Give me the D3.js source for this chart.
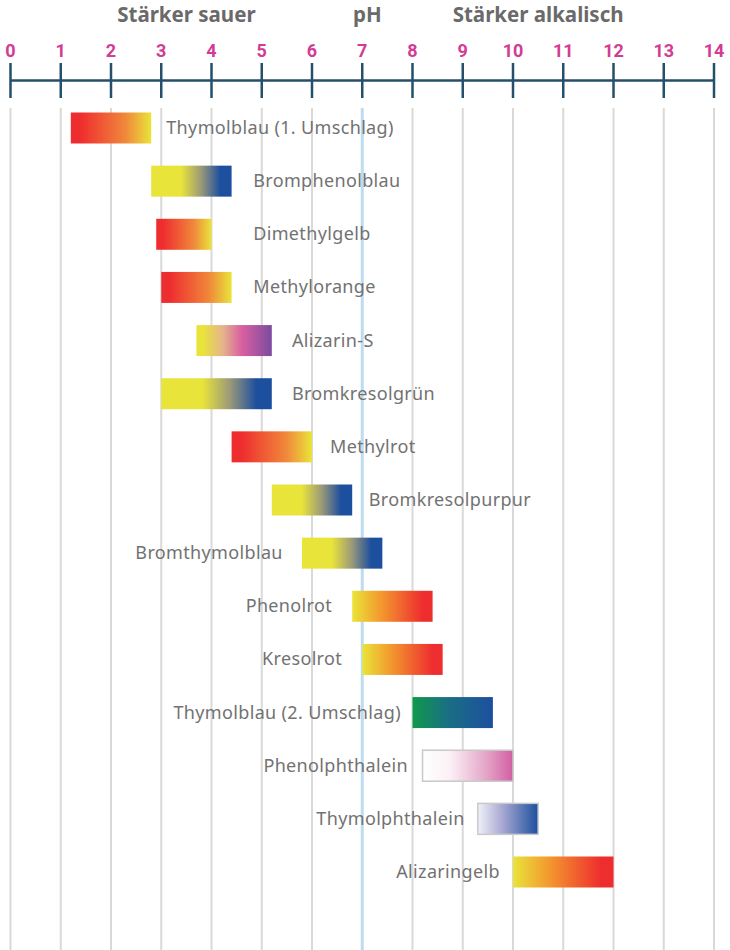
<!DOCTYPE html>
<html>
<head>
<meta charset="utf-8">
<script src="https://cdn.jsdelivr.net/npm/d3@7"></script>
<style>
  body { margin: 0; background: #fff; }
  svg { display: block; }
</style>
</head>
<body>
<svg id="chart" width="730" height="950"></svg>
<script>
// the data
var indicators = ['Thymolblau (1. Umschlag)', 'Bromphenolblau', 'Dimethylgelb', 'Methylorange',
  'Alizarin-S', 'Bromkresolgrün', 'Methylrot', 'Bromkresolpurpur', 'Bromthymolblau',
  'Phenolrot', 'Kresolrot', 'Thymolblau (2. Umschlag)', 'Phenolphthalein',
  'Thymolphthalein', 'Alizaringelb'];
var phFrom = [1.2, 2.8, 2.9, 3.0, 3.7, 3.0, 4.4, 5.2, 5.8, 6.8, 7.0, 8.0, 8.2, 9.3, 10.0];
var phTo   = [2.8, 4.4, 4.0, 4.4, 5.2, 5.2, 6.0, 6.8, 7.4, 8.4, 8.6, 9.6, 10.0, 10.5, 12.0];
// colour of the acid and the base form
var acidForm = ['rot', 'gelb', 'rot', 'rot', 'gelb', 'gelb', 'rot', 'gelb', 'gelb',
  'gelb', 'gelb', 'grün', 'farblos', 'farblos', 'gelb'];
var baseForm = ['gelb', 'blau', 'gelb', 'gelb', 'violett', 'blau', 'gelb', 'blau', 'blau',
  'rot', 'rot', 'blau', 'pink', 'blau', 'rot'];
// where the name sits on the pH scale
var labelAt = [3.1, 4.83, 4.83, 4.83, 5.6, 5.6, 6.36, 7.13, 5.42, 6.4, 6.6, 7.77, 7.91, 9.04, 9.74];
var labelSide = ['r', 'r', 'r', 'r', 'r', 'r', 'r', 'r', 'l', 'l', 'l', 'l', 'l', 'l', 'l'];
var phTicks = d3.range(0, 15);
var headers = [['Stärker sauer', 3.5], ['pH', 7.1], ['Stärker alkalisch', 10.5]];

// colours
var col = { rot: '#ee2d2f', gelb: '#e9e43a', orange: '#f0883a', blau: '#1d4f9f',
  grün: '#10994b', violett: '#7b4aa0', pink: '#d25ea3', farblos: '#ffffff' };

function stopsFor(a, b) {
  var k = a + '>' + b;
  if (k == 'rot>gelb') return [[0, col.rot], [0.12, col.rot], [0.68, col.orange], [1, col.gelb]];
  if (k == 'gelb>rot') return [[0, col.gelb], [0.35, '#f39a2e'], [0.88, col.rot], [1, col.rot]];
  if (k == 'gelb>blau') return [[0, col.gelb], [0.37, col.gelb], [0.62, '#9c9a78'], [0.86, col.blau], [1, col.blau]];
  if (k == 'gelb>violett') return [[0, col.gelb], [0.08, col.gelb], [0.35, '#e5b48c'], [0.6, '#d960a0'], [1, col.violett]];
  if (k == 'grün>blau') return [[0, col.grün], [0.45, '#1a6e84'], [1, col.blau]];
  if (k == 'farblos>pink') return [[0, '#ffffff'], [0.3, '#fbf1f6'], [0.7, '#e4a6c8'], [1, col.pink]];
  if (k == 'farblos>blau') return [[0, '#f0f1f8'], [0.4, '#a9a9d3'], [1, col.blau]];
  return [[0, col[a]], [1, col[b]]];
}

var svg = d3.select('#chart');
var x = d3.scaleLinear().domain([0, 14]).range([10.5, 714]);
var y = d3.scalePoint().domain(indicators).range([128, 872]);
var barH = 31;

// gradients
var defs = svg.append('defs');
indicators.forEach(function(name, i) {
  var g = defs.append('linearGradient').attr('id', 'grad' + i)
    .attr('x1', '0%').attr('x2', '100%').attr('y1', '0%').attr('y2', '0%');
  stopsFor(acidForm[i], baseForm[i]).forEach(function(s) {
    g.append('stop').attr('offset', s[0]).attr('stop-color', s[1]);
  });
});

// grid lines
svg.append('g').selectAll('line')
  .data(phTicks).enter().append('line')
  .attr('x1', d => x(d)).attr('x2', d => x(d))
  .attr('y1', 108).attr('y2', 950)
  .attr('stroke', d => d == 7 ? '#bddcee' : '#d9d9d9')
  .attr('stroke-width', d => d == 7 ? 3 : 2);

// axis
var axisY = 80;
var axis = d3.axisTop(x).tickValues(phTicks).tickSize(0).tickFormat('');
var ag = svg.append('g').attr('transform', 'translate(0,' + axisY + ')').call(axis);
ag.select('.domain').attr('stroke', '#24506b').attr('stroke-width', 2.5);
svg.append('g').selectAll('line')
  .data(phTicks).enter().append('line')
  .attr('x1', d => x(d)).attr('x2', d => x(d))
  .attr('y1', axisY - 17).attr('y2', axisY + 18)
  .attr('stroke', '#24506b').attr('stroke-width', 2.5);

// tick numbers
svg.append('g').selectAll('text')
  .data(phTicks).enter().append('text')
  .attr('x', d => x(d)).attr('y', 57)
  .attr('text-anchor', 'middle')
  .attr('font-family', 'Roboto, sans-serif').attr('font-weight', 'bold')
  .attr('font-size', 18).attr('fill', '#d23c95')
  .text(d => d);

// headers
svg.append('g').selectAll('text')
  .data(headers).enter().append('text')
  .attr('x', d => x(d[1])).attr('y', 22)
  .attr('text-anchor', 'middle')
  .attr('font-family', '"Noto Sans", sans-serif').attr('font-weight', 'bold')
  .attr('font-size', 20.5).attr('fill', '#6a6a6a')
  .text(d => d[0]);

// bars
svg.append('g').selectAll('rect')
  .data(indicators).enter().append('rect')
  .attr('x', (d, i) => x(phFrom[i]))
  .attr('width', (d, i) => x(phTo[i]) - x(phFrom[i]))
  .attr('y', d => y(d) - barH / 2).attr('height', barH)
  .attr('fill', (d, i) => 'url(#grad' + i + ')')
  .attr('stroke', (d, i) => acidForm[i] == 'farblos' ? '#c9c9c9' : 'none')
  .attr('stroke-width', 1.5);

// names
svg.append('g').selectAll('text')
  .data(indicators).enter().append('text')
  .attr('x', (d, i) => x(labelAt[i]))
  .attr('y', d => y(d) + 6)
  .attr('text-anchor', (d, i) => labelSide[i] == 'r' ? 'start' : 'end')
  .attr('font-family', '"Noto Sans", sans-serif')
  .attr('font-size', 18).attr('letter-spacing', 0.35).attr('fill', '#727272')
  .text(d => d);
</script>
</body>
</html>
